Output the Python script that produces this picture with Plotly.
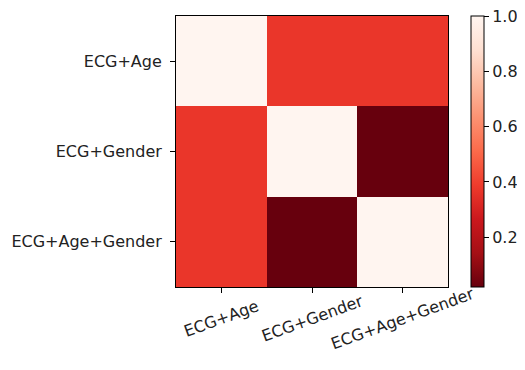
import plotly.graph_objects as go

labels = ["ECG+Age", "ECG+Gender", "ECG+Age+Gender"]
z_values = [
    [1.0, 0.37, 0.37],
    [0.37, 1.0, 0.02],
    [0.37, 0.02, 1.0],
]
cbar_ticks = [0.2, 0.4, 0.6, 0.8, 1.0]

reds_mpl = ["#fff5f0", "#fee0d2", "#fcbba1", "#fc9272", "#fb6a4a",
            "#ef3b2c", "#cb181d", "#a50f15", "#67000d"]
reds_r = reds_mpl[::-1]
colorscale = [[i / (len(reds_r) - 1), c] for i, c in enumerate(reds_r)]

FONT = "DejaVu Sans"
fs = 16

# page body has an 8px margin; compensate so the plot lands where the reference has it
OFF = 8
W, H = 525 - 2 * OFF, 370 - 2 * OFF
L, T = 176 - OFF, 16 - OFF
PW, PH = 272, 271
R, B = W - L - PW, H - T - PH

fig = go.Figure()
fig.add_trace(go.Heatmap(
    z=z_values, x=labels, y=labels,
    colorscale=colorscale, zmin=0.02, zmax=1.0,
    showscale=True,
    colorbar=dict(
        x=(471 - 176) / PW, xanchor="left", xpad=0,
        y=0.5, yanchor="middle", ypad=0, len=1, lenmode="fraction",
        thickness=13, thicknessmode="pixels",
        outlinewidth=1, outlinecolor="black",
        tickvals=cbar_ticks, ticktext=[f"{v:.1f}" for v in cbar_ticks],
        ticks="outside", ticklen=5, tickcolor="black", tickwidth=1,
        ticklabeloverflow="allow",
        tickfont=dict(family=FONT, size=fs, color="#222"),
    ),
    hoverinfo="skip",
))

annotations = []
for lab in labels:
    annotations.append(dict(
        x=lab, xref="x", y=(287 - 318) / PH, yref="paper",
        text=lab, showarrow=False, textangle=-20,
        xanchor="center", yanchor="middle",
        font=dict(family=FONT, size=fs, color="#222"),
    ))

fig.update_layout(
    width=W, height=H,
    margin=dict(l=L, r=R, t=T, b=B, autoexpand=False),
    paper_bgcolor="white", plot_bgcolor="white",
    annotations=annotations,
    xaxis=dict(
        range=[-0.5, 2.5], autorange=False,
        showticklabels=False, ticks="outside", ticklen=5, tickcolor="black",
        showline=True, linecolor="black", linewidth=1, mirror=True,
        showgrid=False, zeroline=False, automargin=False,
    ),
    yaxis=dict(
        range=[2.5, -0.5], autorange=False,
        ticks="outside", ticklen=5, tickcolor="black",
        showline=True, linecolor="black", linewidth=1, mirror=True,
        showgrid=False, zeroline=False, automargin=False,
        ticklabelstandoff=5,
        tickfont=dict(family=FONT, size=fs, color="#222"),
    ),
)

fig.write_html("out.html")
